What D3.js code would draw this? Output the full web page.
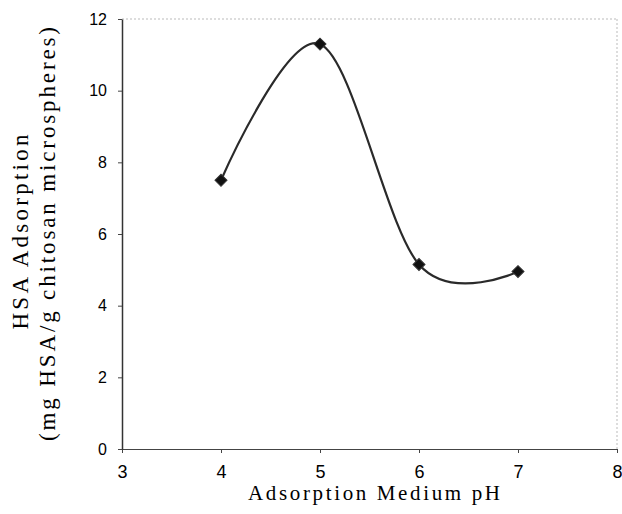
<!DOCTYPE html>
<html>
<head>
<meta charset="utf-8">
<script src="https://cdn.jsdelivr.net/npm/d3@7"></script>
<style>
  body { margin: 0; background: #fff; }
  svg { display: block; }
</style>
</head>
<body>
<svg></svg>
<script>
const phValues = [4, 5, 6, 7]
const adsorption = [7.5, 11.3, 5.15, 4.95]
const xTicks = [3, 4, 5, 6, 7, 8]
const yTicks = [0, 2, 4, 6, 8, 10, 12]

const W = 622, H = 514
const svg = d3.select('svg').attr('width', W).attr('height', H)

const x = d3.scaleLinear().domain([3, 8]).range([122, 617])
const y = d3.scaleLinear().domain([0, 12]).range([449, 19])

// frame: top and right are faint dotted lines
svg.append('line')
    .attr('x1', x(3)).attr('x2', x(8)).attr('y1', y(12)).attr('y2', y(12))
    .attr('stroke', '#bbb').attr('stroke-dasharray', '2,2').attr('stroke-width', 1)
svg.append('line')
    .attr('x1', x(8)).attr('x2', x(8)).attr('y1', y(12)).attr('y2', y(0))
    .attr('stroke', '#bbb').attr('stroke-dasharray', '2,2').attr('stroke-width', 1)

const xAxis = svg.append('g')
    .attr('transform', `translate(0,${y(0)})`)
    .call(d3.axisBottom(x).tickValues(xTicks).tickSize(4).tickSizeOuter(0).tickFormat(d3.format('d')))
xAxis.select('.domain').attr('stroke', '#444').attr('stroke-width', 1.2)
xAxis.selectAll('.tick line').attr('stroke', '#444')
xAxis.selectAll('.tick text')
    .attr('font-family', 'Liberation Sans, Arial, sans-serif')
    .attr('font-size', 18).attr('fill', '#000')
    .attr('dy', null).attr('y', 29)

const yAxis = svg.append('g')
    .attr('transform', `translate(${x(3)},0)`)
    .call(d3.axisLeft(y).tickValues(yTicks).tickSize(4).tickSizeOuter(0).tickFormat(d3.format('d')))
yAxis.select('.domain').attr('stroke', '#333').attr('stroke-width', 1.5)
yAxis.selectAll('.tick line').attr('stroke', '#444')
yAxis.selectAll('.tick text')
    .attr('font-family', 'Liberation Sans, Arial, sans-serif')
    .attr('font-size', 16).attr('fill', '#000').attr('x', -15)

const pts = phValues.map((p, i) => [p, adsorption[i]])

const line = d3.line()
    .x(d => x(d[0]))
    .y(d => y(d[1]))
    .curve(d3.curveCardinal.tension(0))

svg.append('path')
    .datum(pts)
    .attr('d', line)
    .attr('fill', 'none')
    .attr('stroke', '#2a2a2a')
    .attr('stroke-width', 2.2)

svg.selectAll('.marker')
    .data(pts)
    .enter()
    .append('path')
    .attr('class', 'marker')
    .attr('d', d3.symbol().type(d3.symbolSquare).size(72))
    .attr('transform', d => `translate(${x(d[0])},${y(d[1])}) rotate(45)`)
    .attr('fill', '#111')
    .attr('stroke', '#333')
    .attr('stroke-width', 1)

// axis titles
const serif = 'Liberation Serif, Times New Roman, serif'

svg.append('text')
    .attr('x', 374).attr('y', 500)
    .attr('text-anchor', 'middle')
    .attr('font-family', serif)
    .attr('font-size', 21)
    .attr('textLength', 252).attr('lengthAdjust', 'spacing')
    .text('Adsorption Medium pH')

svg.append('text')
    .attr('transform', 'translate(28,232) rotate(-90)')
    .attr('text-anchor', 'middle')
    .attr('font-family', serif)
    .attr('font-size', 23)
    .attr('textLength', 195).attr('lengthAdjust', 'spacing')
    .text('HSA Adsorption')

svg.append('text')
    .attr('transform', 'translate(55,234) rotate(-90)')
    .attr('text-anchor', 'middle')
    .attr('font-family', serif)
    .attr('font-size', 23)
    .attr('textLength', 414).attr('lengthAdjust', 'spacing')
    .text('(mg HSA/g chitosan microspheres)')
</script>
</body>
</html>
